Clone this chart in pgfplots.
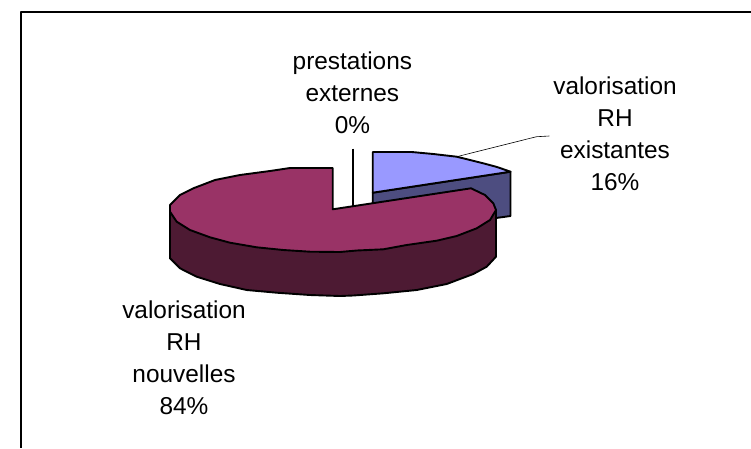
\documentclass[border=0pt]{standalone}
\usepackage{fontspec}
\setmainfont{Liberation Sans}
\usepackage{pgfplots}
\pgfplotsset{compat=1.18}

\definecolor{bluetop}{HTML}{9999FF}
\definecolor{blueside}{HTML}{4D4D80}
\definecolor{maroontop}{HTML}{993366}
\definecolor{maroonside}{HTML}{4D1A33}

\tikzset{lbl/.style={align=center, font=\fontsize{24.4}{32}\selectfont, inner sep=0pt}}

\begin{document}
\begin{tikzpicture}
\useasboundingbox (0,0) rectangle (751pt,448pt);
\begin{axis}[
  at={(0,0)}, anchor=south west,
  x=1pt, y=1pt,
  xmin=0, xmax=751,
  ymin=0, ymax=448,
  y dir=reverse,
  hide axis,
  clip=false,
  every axis plot/.append style={line join=round, line width=1.9pt},
]
% outer frame, only top and left are drawn
\addplot[black, line width=2pt] coordinates {(751,12) (20.5,12) (20.5,448)};

% slice "prestations externes", 0%
\addplot[black] coordinates {(353.3,148.7) (353.3,207)};

% slice "existantes", side then top
\addplot[fill=blueside, draw=black] coordinates {
  (372.7,192.7) (510.5,171.7) (510.5,216) (372.7,235)
} -- cycle;
\addplot[fill=bluetop, draw=black] coordinates {
  (372.7,152) (411.7,152) (433.3,154) (456.7,156.7) (470,160) (483.3,163.3)
  (497,167) (510.5,171.7) (372.7,192.7)
} -- cycle;

% leader line
\addplot[black, line width=0.6pt] coordinates {(456.7,156.7) (530,138.3) (536.7,136.7) (549.3,136)};

% slice "nouvelles", side then top
\addplot[fill=maroonside, draw=black] coordinates {
  (170,210) (170,258.3) (180,268.3) (196.7,276.7) (220,284) (246.7,290)
  (276.7,292.7) (310,295) (340,296) (353.3,295.5) (383.3,293.3) (416.7,290)
  (446.7,284) (473.3,274) (486.7,266.7) (496,256.7) (496,210)
} -- cycle;
\addplot[fill=maroontop, draw=black] coordinates {
  (332.7,209.3) (332.7,168) (290,168) (270,171) (240,175) (215,180)
  (193.3,188.3) (180,195) (170,205) (170,211.7) (176.7,221.7) (190,230)
  (210,237.3) (230,242.7) (256.7,247.3) (283.3,250) (310,251.7) (340,252)
  (356.7,250.5) (383.3,249.3) (406.7,245) (436.7,240.7) (456.7,236) (476.7,228.3)
  (490,220) (496,210) (493.3,203.3) (485,195) (471,188.3)
} -- cycle;

\node[lbl] at (axis cs:352.4,93) {prestations\\externes\\0\%};
\node[lbl] at (axis cs:615,134) {valorisation\\RH\\existantes\\16\%};
\node[lbl] at (axis cs:184,358) {valorisation\\RH\\nouvelles\\84\%};
\end{axis}
\end{tikzpicture}
\end{document}
